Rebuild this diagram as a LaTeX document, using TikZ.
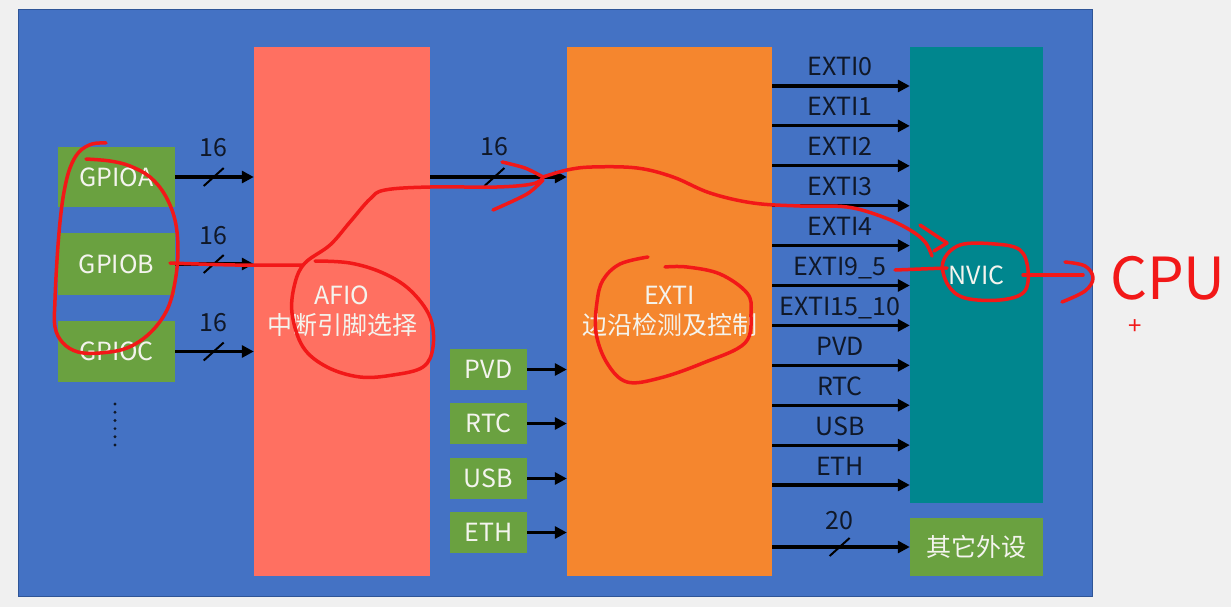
\documentclass[tikz,border=0pt]{standalone}
\usepackage{fontspec}
\setmainfont{Noto Sans CJK SC}
\usetikzlibrary{arrows.meta,calc}
\definecolor{pagegray}{HTML}{F0F0F0}
\definecolor{bgblue}{HTML}{4472C4}
\definecolor{bgedge}{HTML}{2F5597}
\definecolor{gpgreen}{HTML}{6AA140}
\definecolor{afiocol}{HTML}{FF7061}
\definecolor{exticol}{HTML}{F5862E}
\definecolor{nviccol}{HTML}{00868E}
\definecolor{labcol}{HTML}{101828}
\definecolor{wtext}{HTML}{F4F4EE}
\definecolor{redc}{HTML}{F21818}
\begin{document}
\begin{tikzpicture}[x=1pt,y=-1pt,
  box/.style={draw=none,inner sep=0pt,text=wtext,font=\fontsize{25}{30}\selectfont,align=center},
  gbox/.style={box,fill=gpgreen},
  arr/.style={draw=black,line width=3.2pt,-{Triangle[length=12pt,width=12pt]}},
  slashl/.style={draw=black,line width=2pt},
  lab/.style={inner sep=0pt,anchor=base,text=labcol,font=\fontsize{25}{30}\selectfont},
  redink/.style={draw=redc,line width=3.5pt,line cap=round,line join=round}]
\useasboundingbox (0,0) rectangle (1231,607);
\fill[pagegray] (0,0) rectangle (1231,607);
\filldraw[fill=bgblue,draw=bgedge,line width=1pt] (18,10) rectangle (1092,596);

% boxes
\node[gbox,minimum width=117pt,minimum height=60pt] (gpioa) at (116.5,177) {GPIOA};
\node[gbox,minimum width=117pt,minimum height=62pt] (gpiob) at (116.5,264) {GPIOB};
\node[gbox,minimum width=117pt,minimum height=61pt] (gpioc) at (116.5,351.5) {GPIOC};
\node[box,fill=afiocol,minimum width=176pt,minimum height=529pt] (afio) at (342,311.5) {AFIO\\中断引脚选择};
\node[box,fill=exticol,minimum width=205pt,minimum height=529pt] (exti) at (669.5,311.5) {EXTI\\边沿检测及控制};
\node[gbox,minimum width=77pt,minimum height=41pt] (pvd) at (488.5,369.5) {PVD};
\node[gbox,minimum width=77pt,minimum height=41pt] (rtc) at (488.5,423.5) {RTC};
\node[gbox,minimum width=77pt,minimum height=41pt] (usb) at (488.5,478.5) {USB};
\node[gbox,minimum width=77pt,minimum height=41pt] (eth) at (488.5,532.5) {ETH};
\node[box,fill=nviccol,minimum width=133pt,minimum height=456pt] (nvic) at (976.5,275) {NVIC};
\node[gbox,minimum width=133pt,minimum height=58pt] (other) at (976.5,547) {其它外设};

% dots
\foreach \k in {0,...,5} \fill[labcol] (115,{404+8.2*\k}) circle (1.6pt);

% GPIO -> AFIO
\foreach \g in {gpioa,gpiob,gpioc}{
  \draw[arr] (\g.east) -- coordinate[pos=0.49] (s\g) (\g.east -| afio.west);
  \draw[slashl] ($(s\g)+(-10,9)$) -- ($(s\g)+(10,-9)$);
  \node[lab] at ($(s\g)+(0,-20)$) {16};
}
% AFIO -> EXTI
\draw[arr] (gpioa.east -| afio.east) -- coordinate[pos=0.47] (sae) (gpioa.east -| exti.west);
\draw[slashl] ($(sae)+(-10,9)$) -- ($(sae)+(10,-9)$);
\node[lab] at ($(sae)+(0,-21)$) {16};
% peripherals -> EXTI
\foreach \p in {pvd,rtc,usb,eth}
  \draw[arr] (\p.east) -- (\p.east -| exti.west);
% EXTI -> NVIC
\foreach \t [count=\i from 0] in {EXTI0,EXTI1,EXTI2,EXTI3,EXTI4,EXTI9\_5,EXTI15\_10,PVD,RTC,USB,ETH}{
  \coordinate (r\i) at (0,{86+39.9*\i});
  \draw[arr] (exti.east |- r\i) -- (nvic.west |- r\i);
  \node[lab] (l\i) at (840,{76+39.9*\i}) {\t};
}
% EXTI -> other
\draw[arr] (other.west -| exti.east) -- coordinate[pos=0.49] (s20) (other.west);
\draw[slashl] ($(s20)+(-10,9)$) -- ($(s20)+(10,-9)$);
\node[lab] at ($(s20)+(0,-18)$) {20};

% red annotations
\draw[redink] plot[smooth,tension=0.6] coordinates {(106,143) (92,144) (79,152) (70,168) (64,192) (60,222) (57,260) (55,300) (55,327) (63,343) (78,352) (100,353) (127,348) (150,333) (167,310) (175,282) (178,250) (175,220) (165,195) (150,177) (130,166) (110,161) (86,159)};
\draw[redink] plot[smooth] coordinates {(170,263) (235,265) (303,265)};
\draw[redink] plot[smooth,tension=0.6] coordinates {(315,261) (350,263) (383,273) (410,290) (430,317) (433,347) (423,367) (393,375) (360,377) (327,367) (303,347) (292,313) (295,283) (305,263) (330,245) (350,222) (370,199) (385,190) (430,187) (497,187) (532,184) (543,178)};
\draw[redink] plot[smooth,tension=0.5] coordinates {(502,162) (525,168) (543,177)};
\draw[redink] plot[smooth,tension=0.5] coordinates {(543,180) (527,194) (493,210)};
\draw[redink] plot[smooth,tension=0.6] coordinates {(543,177) (567,170) (592,167) (637,168) (673,177) (710,193) (753,203) (800,206) (847,207) (883,217) (910,230) (925,242) (932,256)};
\draw[redink] (920,225) -- (947,243) -- (934,251);
\draw[redink] plot[smooth cycle,tension=0.6] coordinates {(960,245) (995,244) (1020,250) (1028,270) (1024,292) (1000,300) (965,298) (948,285) (943,262)};
\draw[redink] (895,270) -- (947,268);
\draw[redink] (1023,275) -- (1083,275);
\draw[redink] plot[smooth,tension=0.6] coordinates {(1065,262) (1085,266) (1093,278) (1085,291) (1062,302)};
\draw[redink] plot[smooth,tension=0.6] coordinates {(648,257) (620,264) (603,280) (597,302) (596,333) (607,363) (627,382) (660,378) (703,363) (745,343) (751,313) (747,293) (720,274) (687,267) (665,267)};
\node[inner sep=0pt,anchor=base,text=redc,font=\fontsize{58}{58}\selectfont] (cpu) at (1168,299) {CPU};
\node[inner sep=0pt,text=redc,font=\fontsize{24}{24}\selectfont] (plus) at (1135,327) {+};
\end{tikzpicture}
\end{document}
